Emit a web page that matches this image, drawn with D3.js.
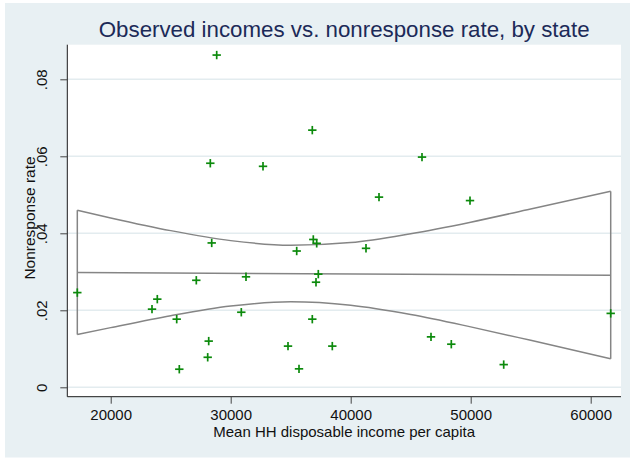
<!DOCTYPE html>
<html>
<head>
<meta charset="utf-8">
<script src="https://cdn.jsdelivr.net/npm/d3@7"></script>
<style>
  html, body { margin: 0; padding: 0; background: #ffffff; }
  svg { display: block; }
  text { font-family: Arial, "Liberation Sans", Helvetica, sans-serif; }
</style>
</head>
<body>
<svg id="chart" width="630" height="458"></svg>
<script>
// Mean household disposable income per capita, by state
const income = [
  28833, 36800, 28300, 32692, 45942, 42358, 49942, 17217,
  28417, 36883, 37167, 35500, 37300, 37108, 31275, 27133,
  23883, 23442, 25500, 30883, 36800, 28167, 34775, 38467,
  28083, 25717, 35692, 41275, 61667, 46692, 48383, 52750
];
// Nonresponse rate, by state (same order as income)
const nonresponse = [
  0.0863, 0.0668, 0.0582, 0.0574, 0.0598, 0.0494, 0.0485, 0.0246,
  0.0375, 0.0384, 0.0374, 0.0354, 0.0294, 0.0273, 0.0287, 0.0278,
  0.0229, 0.0203, 0.0177, 0.0195, 0.0177, 0.0120, 0.0107, 0.0107,
  0.0078, 0.0047, 0.0048, 0.0361, 0.0192, 0.0131, 0.0112, 0.0059
];

// Linear fit and its 95% confidence band
const bandIncome = [17217, 20000, 25000, 30000, 35000, 40000, 45000, 50000, 55000, 61667];
const bandUpper  = [0.0460, 0.0440, 0.0407, 0.0381, 0.0369, 0.0376, 0.0399, 0.0429, 0.0463, 0.0509];
const bandLower  = [0.0137, 0.0155, 0.0186, 0.0211, 0.0222, 0.0213, 0.0189, 0.0157, 0.0122, 0.0074];
const fitIncome  = [17217, 61667];
const fitRate    = [0.0298, 0.0291];

// Axis ticks
const xTicks = [20000, 30000, 40000, 50000, 60000];
const yTicks = [0, 0.02, 0.04, 0.06, 0.08];
const yTickLabels = ["0", ".02", ".04", ".06", ".08"];

const svg = d3.select("#chart");

// Outer graph region
svg.append("rect")
  .attr("x", 5).attr("y", 3)
  .attr("width", 625).attr("height", 454.5)
  .attr("fill", "#e8f0f3");

const plot = { left: 67.3, top: 44.7, right: 621, bottom: 396.7 };

const x = d3.scaleLinear().domain([16383, 62525]).range([plot.left, plot.right]);
const y = d3.scaleLinear().domain([-0.00244, 0.08899]).range([plot.bottom, plot.top]);

// Plot region
svg.append("rect")
  .attr("x", plot.left).attr("y", plot.top)
  .attr("width", plot.right - plot.left).attr("height", plot.bottom - plot.top)
  .attr("fill", "#ffffff");

// Horizontal grid lines
svg.append("g")
  .selectAll("line")
  .data(yTicks)
  .join("line")
  .attr("x1", plot.left).attr("x2", plot.right)
  .attr("y1", d => y(d)).attr("y2", d => y(d))
  .attr("stroke", "#e3ecef")
  .attr("stroke-width", 1.5);

// Confidence band outline, closed at both ends by vertical edges
const bandLine = d3.line().curve(d3.curveMonotoneX)
  .x((d, i) => x(bandIncome[i])).y(d => y(d));

const bandG = svg.append("g")
  .attr("fill", "none")
  .attr("stroke", "#858585")
  .attr("stroke-width", 1.5);
bandG.append("path").attr("d", bandLine(bandUpper));
bandG.append("path").attr("d", bandLine(bandLower));
[0, bandIncome.length - 1].forEach(i => {
  bandG.append("line")
    .attr("x1", x(bandIncome[i])).attr("x2", x(bandIncome[i]))
    .attr("y1", y(bandUpper[i])).attr("y2", y(bandLower[i]));
});

// Fitted line
bandG.append("path")
  .attr("d", d3.line().x((d, i) => x(fitIncome[i])).y(d => y(d))(fitRate));

// Scatter markers: plus signs
const r = 4.2;
const pts = svg.append("g")
  .attr("stroke", "#0c8a0c")
  .attr("stroke-width", 1.7)
  .selectAll("g")
  .data(income.map((v, i) => ({ inc: v, rate: nonresponse[i] })))
  .join("g")
  .attr("transform", d => `translate(${x(d.inc)},${y(d.rate)})`);
pts.append("line").attr("x1", -r).attr("x2", r).attr("y1", 0).attr("y2", 0);
pts.append("line").attr("x1", 0).attr("x2", 0).attr("y1", -r).attr("y2", r);

// Y axis
const yAxis = svg.append("g")
  .attr("transform", `translate(${plot.left},0)`)
  .call(d3.axisLeft(y).tickValues(yTicks).tickSize(7).tickFormat((d, i) => yTickLabels[i]));
yAxis.select(".domain")
  .attr("d", `M0,${plot.top}V${plot.bottom}`)
  .attr("stroke", "#1a1a1a");
yAxis.selectAll(".tick line").attr("stroke", "#444");
yAxis.selectAll(".tick text")
  .attr("font-size", 15)
  .attr("fill", "#111")
  .attr("text-anchor", "middle")
  .attr("x", 0).attr("dy", 0)
  .attr("transform", "translate(-20.6,0) rotate(-90)");

// X axis
const xAxis = svg.append("g")
  .attr("transform", `translate(0,${plot.bottom})`)
  .call(d3.axisBottom(x).tickValues(xTicks).tickSize(7).tickFormat(d3.format("d")));
xAxis.select(".domain")
  .attr("d", `M${plot.left},0H${plot.right}`)
  .attr("stroke", "#1a1a1a");
xAxis.selectAll(".tick line").attr("stroke", "#444");
xAxis.selectAll(".tick text")
  .attr("font-size", 15)
  .attr("fill", "#111")
  .attr("y", 23).attr("dy", 0);

// Axis titles
svg.append("text")
  .attr("x", (plot.left + plot.right) / 2).attr("y", 437)
  .attr("text-anchor", "middle")
  .attr("font-size", 15)
  .attr("fill", "#111")
  .text("Mean HH disposable income per capita");

svg.append("text")
  .attr("transform", "translate(34.5,218) rotate(-90)")
  .attr("text-anchor", "middle")
  .attr("font-size", 15.5)
  .attr("fill", "#111")
  .text("Nonresponse rate");

// Chart title
svg.append("text")
  .attr("x", (plot.left + plot.right) / 2).attr("y", 37)
  .attr("text-anchor", "middle")
  .attr("font-size", 22.3)
  .attr("fill", "#1c2a58")
  .text("Observed incomes vs. nonresponse rate, by state");
</script>
</body>
</html>
